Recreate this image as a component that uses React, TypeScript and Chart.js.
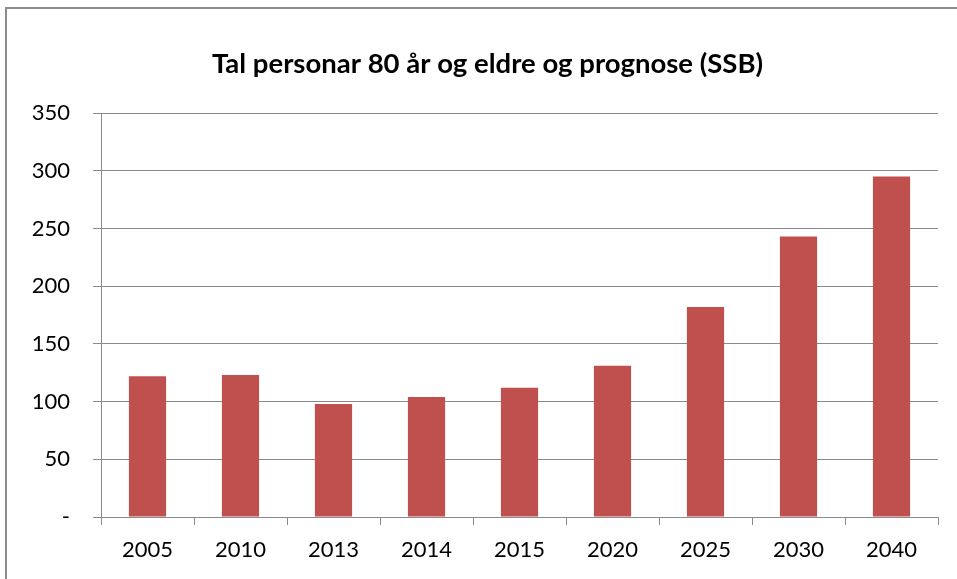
import React, { useEffect, useRef } from "react";
import { Chart, registerables } from "chart.js";

Chart.register(...registerables);

const categories = ["2005", "2010", "2013", "2014", "2015", "2020", "2025", "2030", "2040"];
const values = [122, 123, 98, 104, 112, 131, 182, 243, 295];
const yTicks = [0, 50, 100, 150, 200, 250, 300, 350];
const titleText = "Tal personar 80 år og eldre og prognose (SSB)";

const FONT = "Lato, 'DejaVu Sans', sans-serif";
const GRID = "#8a8a8a";

const framePlugin = {
  id: "frame",
  afterDraw(chart: any) {
    const ctx = chart.ctx;
    ctx.save();
    ctx.strokeStyle = "#8c8c8c";
    ctx.lineWidth = 2;
    ctx.beginPath();
    ctx.moveTo(6, chart.height);
    ctx.lineTo(6, 8);
    ctx.lineTo(chart.width, 8);
    ctx.stroke();
    ctx.fillStyle = "#000";
    ctx.font = `bold 27.5px ${FONT}`;
    ctx.textAlign = "center";
    ctx.textBaseline = "middle";
    ctx.fillText(titleText, 487.5, 64);
    ctx.restore();
  },
};

export default function App() {
  const ref = useRef<HTMLCanvasElement>(null);
  useEffect(() => {
    document.body.style.margin = "0";
    const chart = new Chart(ref.current!, {
      type: "bar",
      data: {
        labels: categories,
        datasets: [
          {
            data: values,
            backgroundColor: "#C0504D",
            barPercentage: 0.4,
            categoryPercentage: 1,
          },
        ],
      },
      options: {
        responsive: false,
        animation: false,
        layout: { padding: { left: 0, right: 19, top: 113, bottom: 0 } },
        plugins: {
          legend: { display: false },
          tooltip: { enabled: false },
          title: { display: false },
        },
        scales: {
          x: {
            offset: true,
            grid: { display: true, drawOnChartArea: false, drawTicks: true, tickLength: 8, color: GRID, offset: true },
            border: { display: true, color: GRID, width: 1 },
            ticks: { color: "#000", font: { family: FONT, size: 22 }, padding: 12, maxRotation: 0 },
            afterFit: (axis: any) => {
              axis.height = 62;
            },
          },
          y: {
            min: 0,
            max: 350,
            afterBuildTicks: (axis: any) => {
              axis.ticks = yTicks.map((v) => ({ value: v }));
            },
            grid: { color: GRID, tickLength: 8, drawTicks: true },
            border: { display: true, color: GRID, width: 1 },
            ticks: {
              color: "#000",
              font: { family: FONT, size: 22 },
              padding: 23,
              callback: (v: any) => (Number(v) === 0 ? "-" : String(v)),
            },
            afterFit: (axis: any) => {
              axis.width = 101;
            },
          },
        },
      },
      plugins: [framePlugin],
    });
    return () => chart.destroy();
  }, []);
  return (
    <div style={{ width: 957, height: 579, background: "#fff" }}>
      <canvas ref={ref} width={957} height={579} />
    </div>
  );
}
